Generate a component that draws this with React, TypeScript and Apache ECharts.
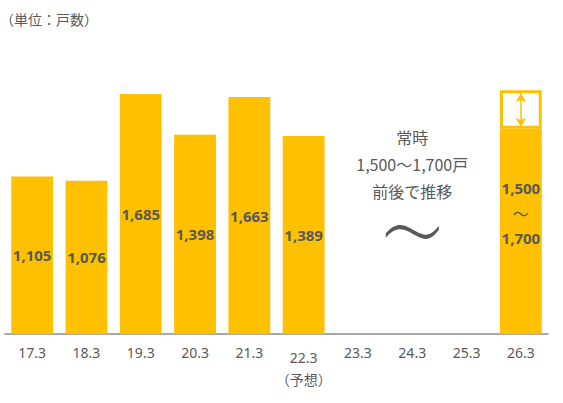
import React, { useEffect, useRef } from "react";
import * as echarts from "echarts";

const categories = ["17.3", "18.3", "19.3", "20.3", "21.3", "22.3", "23.3", "24.3", "25.3", "26.3"];
const actualValues = [1105, 1076, 1685, 1398, 1663, 1389, null, null, null, null];
const forecastBase = [null, null, null, null, null, null, null, null, null, 1440];
const forecastBox = [null, null, null, null, null, null, null, null, null, 270];
const rangeLow = 1500;
const rangeHigh = 1700;
const unitLabel = "（単位：戸数）";
const noteLines = ["常時", "1,500～1,700戸", "前後で推移"];

const YELLOW = "#FFC000";
const GRAY = "#595959";
const fmt = (v: number) => v.toLocaleString("en-US");
const FONT = "'Noto Sans CJK JP', 'Noto Sans', sans-serif";
const NUMFONT = "'Noto Sans', 'Noto Sans CJK JP', sans-serif";
const WAVE =
  "path://M0,7 C6,0 12,-2 18,0 C24,2 30,7 36,8 C42,9 46,5 50,0 L50,4 C46,9 42,13 36,12 C30,11 24,6 18,4 C12,2 6,4 0,11 Z";

export default function App() {
  const ref = useRef<HTMLDivElement>(null);
  useEffect(() => {
    const chart = echarts.init(ref.current!, null, { renderer: "svg" });
    chart.setOption({
      animation: false,
      textStyle: { fontFamily: FONT },
      title: {
        text: unitLabel,
        left: -5,
        top: 7,
        textStyle: { fontSize: 14, fontWeight: "normal", color: GRAY, fontFamily: FONT },
      },
      grid: { left: 5, right: 15, top: 49, bottom: 69 },
      xAxis: {
        type: "category",
        data: categories,
        axisLine: { lineStyle: { color: "#8c8c8c", width: 1.5 } },
        axisTick: { show: false },
        axisLabel: {
          color: GRAY,
          fontSize: 14,
          fontFamily: NUMFONT,
          margin: 11,
          interval: 0,
          formatter: (v: string) => (v === "22.3" ? "{a|" + v + "}\n{b|（予想）}" : v),
          rich: {
            a: { fontSize: 14, color: GRAY, fontFamily: NUMFONT, lineHeight: 22, padding: [2, 0, 0, 0] },
            b: { fontSize: 14, color: GRAY, fontFamily: FONT, lineHeight: 24 },
          },
          verticalAlign: "top",
        },
      },
      yAxis: { type: "value", min: 0, max: 2000, show: false, splitLine: { show: false } },
      series: [
        {
          type: "bar",
          stack: "s",
          data: actualValues,
          barCategoryGap: "23%",
          itemStyle: { color: YELLOW },
          label: {
            show: true,
            position: "inside",
            color: GRAY,
            fontSize: 15,
            fontFamily: NUMFONT,
            fontWeight: "bold",
            formatter: (p: any) => fmt(p.value),
          },
          markPoint: {
            silent: true,
            data: [
              {
                coord: ["24.3", 1194],
                symbol: "rect",
                symbolSize: 0,
                label: {
                  show: true,
                  formatter: noteLines.join("\n"),
                  color: GRAY,
                  fontSize: 16,
                  fontWeight: "normal",
                  fontFamily: FONT,
                  lineHeight: 27,
                  align: "center",
                  verticalAlign: "middle",
                  position: "inside",
                },
              },
              {
                coord: ["24.3", 716],
                symbol: WAVE,
                symbolSize: [53, 14],
                itemStyle: { color: GRAY, borderWidth: 0 },
                label: { show: false },
              },
            ],
          },
        },
        {
          type: "bar",
          stack: "s",
          data: forecastBase,
          itemStyle: { color: YELLOW },
          label: {
            show: true,
            position: "inside",
            offset: [0, -18],
            color: GRAY,
            fontSize: 15,
            fontFamily: NUMFONT,
            fontWeight: "bold",
            lineHeight: 25,
            formatter: () => fmt(rangeLow) + "\n{t|～}\n" + fmt(rangeHigh),
            rich: {
              t: { fontSize: 16, fontWeight: "normal", color: GRAY, lineHeight: 25, fontFamily: FONT },
            },
          },
        },
        {
          type: "bar",
          stack: "s",
          data: forecastBox,
          itemStyle: { color: "#ffffff", borderColor: YELLOW, borderWidth: 3 },
          markLine: {
            silent: true,
            symbol: ["arrow", "arrow"],
            symbolSize: [8, 9],
            lineStyle: { color: YELLOW, width: 1.5, type: "solid" },
            label: { show: false },
            data: [[{ coord: ["26.3", 1455] }, { coord: ["26.3", 1690] }]],
          },
        },
      ],
    });
    return () => chart.dispose();
  }, []);
  return (
    <div
      ref={ref}
      style={{ position: "absolute", left: 0, top: 0, width: 563, height: 403, background: "#fff" }}
    />
  );
}
